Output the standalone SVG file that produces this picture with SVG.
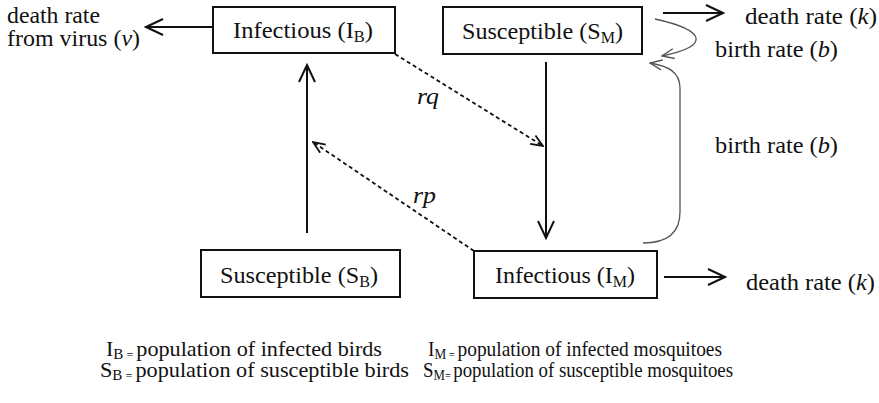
<svg xmlns="http://www.w3.org/2000/svg" width="879" height="403" viewBox="0 0 879 403">
<defs>
<marker id="ah" viewBox="0 0 20 20" refX="18" refY="10" markerWidth="20" markerHeight="20" markerUnits="userSpaceOnUse" orient="auto">
<path d="M1,2 L18,10 L1,18" fill="none" stroke="#111" stroke-width="2"/>
</marker>
<marker id="ahs" viewBox="0 0 14 14" refX="13" refY="7" markerWidth="14" markerHeight="14" markerUnits="userSpaceOnUse" orient="auto">
<path d="M1,2 L13,7 L1,12" fill="none" stroke="#111" stroke-width="1.8"/>
</marker>
<marker id="aht" viewBox="0 0 14 14" refX="13" refY="7" markerWidth="14" markerHeight="14" markerUnits="userSpaceOnUse" orient="auto">
<path d="M1,2 L13,7 L1,12" fill="none" stroke="#555" stroke-width="1.4"/>
</marker>
</defs>
<rect width="879" height="403" fill="#fff"/>
<g font-family="Liberation Serif, Times New Roman, Tinos, serif" font-size="24" fill="#111">

<g id="connectors">
<g fill="none" stroke="#111" stroke-width="2" marker-end="url(#ah)">
<line x1="213" y1="27" x2="146" y2="27"/>
<line x1="307" y1="233" x2="307" y2="65"/>
<line x1="546" y1="62" x2="546" y2="238"/>
<line x1="663" y1="13" x2="723" y2="13"/>
<line x1="664" y1="277" x2="725" y2="277"/>
</g>
<g fill="none" stroke="#111" stroke-width="1.8" stroke-dasharray="4 3" marker-end="url(#ahs)">
<line x1="395" y1="54" x2="543" y2="146"/>
<line x1="474" y1="251" x2="313" y2="142"/>
</g>
<g fill="none" stroke="#555" stroke-width="1.3" marker-end="url(#aht)">
<path d="M655,19 C705,30 712,46 662,56"/>
<path d="M643,243 C668,243 680,232 680,212 L680,88 C680,72 668,66 650,63"/>
</g>
<text font-style="italic" x="417" y="104" textLength="22" lengthAdjust="spacingAndGlyphs">rq</text>
<text font-style="italic" x="413" y="203" textLength="23" lengthAdjust="spacingAndGlyphs">rp</text>
<text x="7" y="23" textLength="93" lengthAdjust="spacingAndGlyphs">death rate</text>
<text x="7" y="46" textLength="133" lengthAdjust="spacingAndGlyphs">from virus (<tspan font-style="italic">v</tspan>)</text>
<text x="745" y="24" textLength="132" lengthAdjust="spacingAndGlyphs">death rate (<tspan font-style="italic">k</tspan>)</text>
<text x="715" y="57" textLength="123" lengthAdjust="spacingAndGlyphs">birth rate (<tspan font-style="italic">b</tspan>)</text>
<text x="715" y="153" textLength="123" lengthAdjust="spacingAndGlyphs">birth rate (<tspan font-style="italic">b</tspan>)</text>
<text x="746" y="290" textLength="129" lengthAdjust="spacingAndGlyphs">death rate (<tspan font-style="italic">k</tspan>)</text>
</g>

<g id="node-IB">
<rect x="213" y="7" width="182" height="46" fill="#fff" stroke="#111" stroke-width="2"/>
<text x="233" y="38" textLength="140" lengthAdjust="spacingAndGlyphs">Infectious (I<tspan font-size="16" dy="4">B</tspan><tspan dy="-4">)</tspan></text>
</g>
<g id="node-SM">
<rect x="443" y="7" width="199" height="47" fill="#fff" stroke="#111" stroke-width="2"/>
<text x="462" y="39" textLength="161" lengthAdjust="spacingAndGlyphs">Susceptible (S<tspan font-size="16" dy="4">M</tspan><tspan dy="-4">)</tspan></text>
</g>
<g id="node-SB">
<rect x="201" y="250" width="199" height="47" fill="#fff" stroke="#111" stroke-width="2"/>
<text x="220" y="283" textLength="158" lengthAdjust="spacingAndGlyphs">Susceptible (S<tspan font-size="16" dy="4">B</tspan><tspan dy="-4">)</tspan></text>
</g>
<g id="node-IM">
<rect x="474" y="251" width="183" height="47" fill="#fff" stroke="#111" stroke-width="2"/>
<text x="495" y="283" textLength="140" lengthAdjust="spacingAndGlyphs">Infectious (I<tspan font-size="16" dy="4">M</tspan><tspan dy="-4">)</tspan></text>
</g>

<g id="legend" font-size="22">
<text x="106" y="356" textLength="276" lengthAdjust="spacingAndGlyphs">I<tspan font-size="15" dy="3">B</tspan><tspan font-size="12"> = </tspan><tspan dy="-3">population of infected birds</tspan></text>
<text x="100" y="377" textLength="309" lengthAdjust="spacingAndGlyphs">S<tspan font-size="15" dy="3">B</tspan><tspan font-size="12"> = </tspan><tspan dy="-3">population of susceptible birds</tspan></text>
<text x="428" y="356" textLength="294" lengthAdjust="spacingAndGlyphs">I<tspan font-size="15" dy="3">M</tspan><tspan font-size="12"> = </tspan><tspan dy="-3">population of infected mosquitoes</tspan></text>
<text x="423" y="377" textLength="310" lengthAdjust="spacingAndGlyphs">S<tspan font-size="15" dy="3">M</tspan><tspan font-size="12">= </tspan><tspan dy="-3">population of susceptible mosquitoes</tspan></text>
</g>
</g>
</svg>
